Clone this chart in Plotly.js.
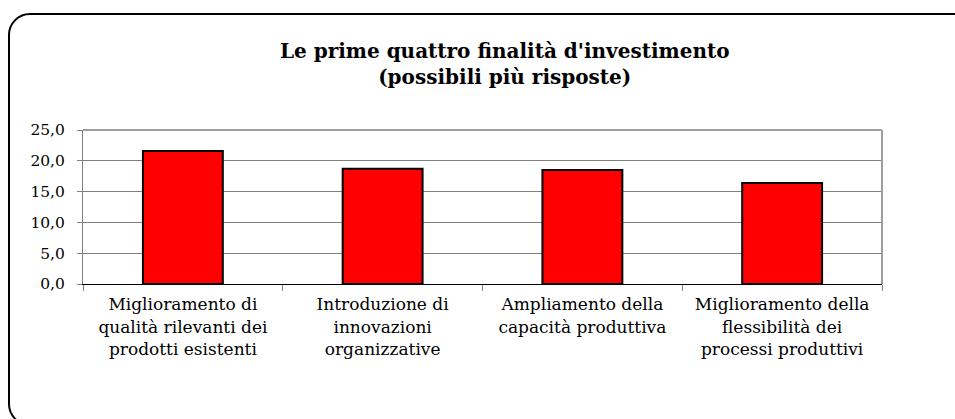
<!DOCTYPE html>
<html>
<head>
<meta charset="utf-8">
<script src="https://cdn.plot.ly/plotly-3.0.1.min.js"></script>
<style>
html,body{margin:0;padding:0;width:955px;height:419px;overflow:hidden;background:#fff;}
#chart{position:absolute;left:0;top:0;width:955px;height:419px;}
#frame{position:absolute;left:8px;top:13px;width:970px;height:409px;border:2px solid #000;border-radius:22px;pointer-events:none;}
</style>
</head>
<body>
<div id="chart"></div>
<div id="frame"></div>
<script>
const categories = [
  "Miglioramento di<br>qualità rilevanti dei<br>prodotti esistenti",
  "Introduzione di<br>innovazioni<br>organizzative",
  "Ampliamento della<br>capacità produttiva",
  "Miglioramento della<br>flessibilità dei<br>processi produttivi"
];
const values = [21.6, 18.7, 18.5, 16.4];
const yTicks = [0, 5, 10, 15, 20, 25];
const titleText = "Le prime quattro finalità d'investimento<br>(possibili più risposte)";

const serif = "'DejaVu Serif', 'Liberation Serif', serif";

const trace = {
  type: 'bar',
  x: categories,
  y: values,
  marker: {color: '#ff0000', line: {color: '#000000', width: 2}},
  hoverinfo: 'none'
};

const layout = {
  width: 955, height: 419,
  margin: {l: 83, r: 73, t: 130, b: 135, pad: 0},
  paper_bgcolor: '#ffffff', plot_bgcolor: '#ffffff',
  separators: ',.',
  showlegend: false,
  bargap: 0.6,
  title: {
    text: titleText,
    font: {family: serif, size: 20, color: '#000', weight: 'bold'},
    xref: 'container', x: 0.5285, xanchor: 'center',
    yref: 'container', y: 1 - 58/419, yanchor: 'top'
  },
  xaxis: {
    type: 'category',
    tickson: 'boundaries',
    ticks: 'outside', ticklen: 6, tickcolor: '#808080', tickwidth: 1,
    showline: true, linecolor: '#000000', linewidth: 1,
    mirror: false,
    showgrid: false,
    tickfont: {family: serif, size: 17, color: '#000'},
    ticklabelstandoff: 5,
    automargin: false
  },
  yaxis: {
    range: [0, 25],
    tickvals: yTicks,
    tickformat: '.1f',
    ticks: 'outside', ticklen: 5, tickcolor: '#808080', tickwidth: 1,
    showline: true, linecolor: '#808080', linewidth: 1,
    showgrid: true, gridcolor: '#808080', gridwidth: 1,
    zeroline: false,
    tickfont: {family: serif, size: 15.5, color: '#000'},
    ticklabelstandoff: 9,
    automargin: false
  },
  shapes: [
    {type: 'line', xref: 'paper', yref: 'paper', x0: 1, x1: 1, y0: 0, y1: 1, line: {color: '#a0a0a0', width: 2}},
    {type: 'line', xref: 'paper', yref: 'paper', x0: 0, x1: 1, y0: 1, y1: 1, line: {color: '#a0a0a0', width: 2}}
  ]
};

Plotly.newPlot('chart', [trace], layout, {staticPlot: true, displayModeBar: false});
</script>
</body>
</html>
